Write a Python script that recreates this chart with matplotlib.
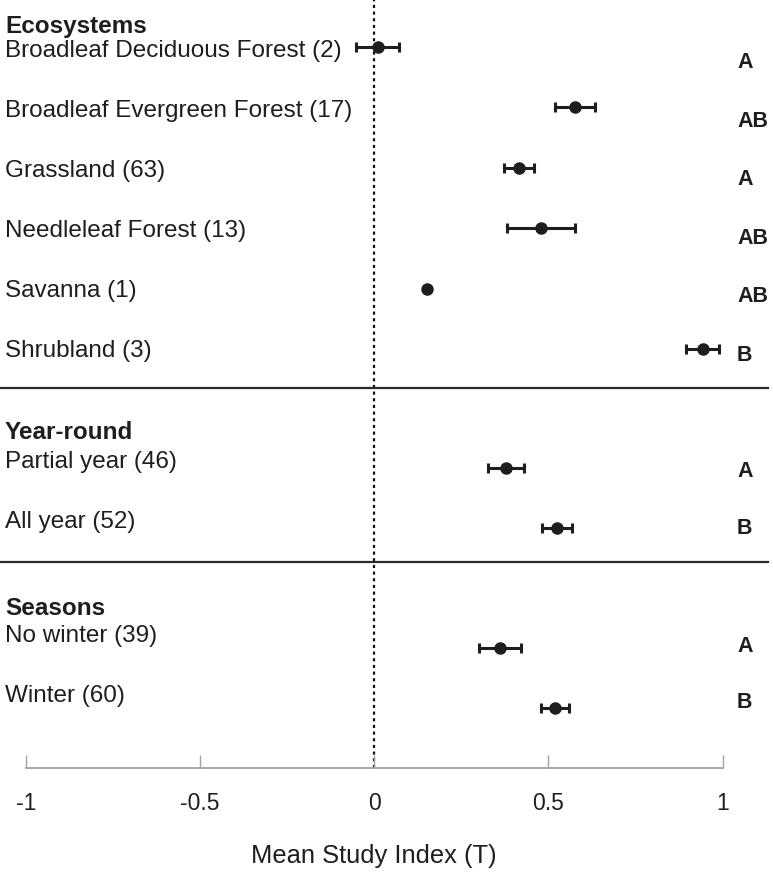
import matplotlib
matplotlib.use("Agg")
import matplotlib.pyplot as plt
import matplotlib.transforms as mtransforms

# ---------------- data ----------------
group_titles = ["Ecosystems", "Year-round", "Seasons"]

eco_labels = ["Broadleaf Deciduous Forest (2)", "Broadleaf Evergreen Forest (17)",
              "Grassland (63)", "Needleleaf Forest (13)", "Savanna (1)", "Shrubland (3)"]
eco_means = [0.010, 0.576, 0.415, 0.479, 0.152, 0.943]
eco_errs = [0.062, 0.058, 0.043, 0.098, 0.0, 0.048]
eco_letters = ["A", "AB", "A", "AB", "AB", "B"]

year_labels = ["Partial year (46)", "All year (52)"]
year_means = [0.378, 0.524]
year_errs = [0.051, 0.043]
year_letters = ["A", "B"]

season_labels = ["No winter (39)", "Winter (60)"]
season_means = [0.361, 0.519]
season_errs = [0.060, 0.040]
season_letters = ["A", "B"]

xticks = [-1, -0.5, 0, 0.5, 1]
xtick_labels = ["-1", "-0.5", "0", "0.5", "1"]
xlabel = "Mean Study Index (T)"

# ---------------- layout (pixels) ----------------
W, H = 773, 872
DPI = 100
axis_px = 767.5          # pixel row of the x axis line
x0_px, px_per_unit = 374.3, 348.3

font = ["Liberation Sans", "DejaVu Sans"]
dark = "#1e1e1e"
grey = "#a3a3a3"

fig = plt.figure(figsize=(W / DPI, H / DPI), dpi=DPI)
ax = fig.add_axes([0, (H - axis_px) / H, 1, axis_px / H])
ax.set_xlim((0 - x0_px) / px_per_unit, (W - x0_px) / px_per_unit)
ax.set_ylim(axis_px, 0)

# (labels, means, errs, letters, header_baseline, label_baseline0, point0, point_step,
#  letter_baseline0, letter_step)
groups = [
    (eco_labels, eco_means, eco_errs, eco_letters, 33.0, 57.3, 46.8, 60.5, 68.3, 58.5),
    (year_labels, year_means, year_errs, year_letters, 439.0, 468.3, 468.3, 59.5, 476.7, 57.3),
    (season_labels, season_means, season_errs, season_letters, 615.0, 642.3, 648.3, 59.5, 651.7, 56.6),
]
label_step = 60.0
separators = [388.0, 562.0]

tr = mtransforms.blended_transform_factory(ax.transAxes, ax.transData)

for title, (labels, means, errs, letters, hb, lb0, p0, pstep, tb0, tstep) in zip(group_titles, groups):
    ax.text(5 / W, hb, title, transform=tr, ha="left", va="baseline",
            fontsize=17.5, fontweight="bold", family=font, color=dark)
    ys = [p0 + pstep * i for i in range(len(labels))]
    for i, (lab, let) in enumerate(zip(labels, letters)):
        ax.text(5 / W, lb0 + label_step * i, lab, transform=tr, ha="left", va="baseline",
                fontsize=17.5, family=font, color=dark)
        ax.text(737 / W, tb0 + tstep * i, let, transform=tr, ha="left", va="baseline",
                fontsize=15.5, fontweight="bold", family=font, color=dark)
    ax.errorbar(means, ys, xerr=errs, fmt="o", color=dark, ms=8.0,
                elinewidth=2.2, capsize=3.9, capthick=2.2, zorder=3)

for s in separators:
    ax.axhline(s, xmin=0, xmax=768 / W, color="#2a2a2a", lw=1.6)

ax.axvline(0, color="#111111", lw=1.6, ls=(0, (1.4, 1.6)), zorder=1)

for sp in ["left", "right", "top"]:
    ax.spines[sp].set_visible(False)
ax.spines["bottom"].set_bounds(-1, 1)
ax.spines["bottom"].set_color(grey)
ax.spines["bottom"].set_linewidth(1.3)
ax.set_yticks([])
ax.set_xticks(xticks)
ax.set_xticklabels(xtick_labels, family=font, fontsize=16.5, color=dark)
ax.tick_params(axis="x", direction="in", length=9.5, width=1.0, color=grey, pad=17.3)

ax.set_xlabel(xlabel, family=font, fontsize=18.4, color=dark)
label_tr = mtransforms.blended_transform_factory(ax.transData, ax.transAxes)
ax.xaxis.set_label_coords(0.0, -(863.3 - axis_px) / axis_px, transform=label_tr)
ax.xaxis.label.set_va("baseline")

fig.savefig("out.png", dpi=DPI)
